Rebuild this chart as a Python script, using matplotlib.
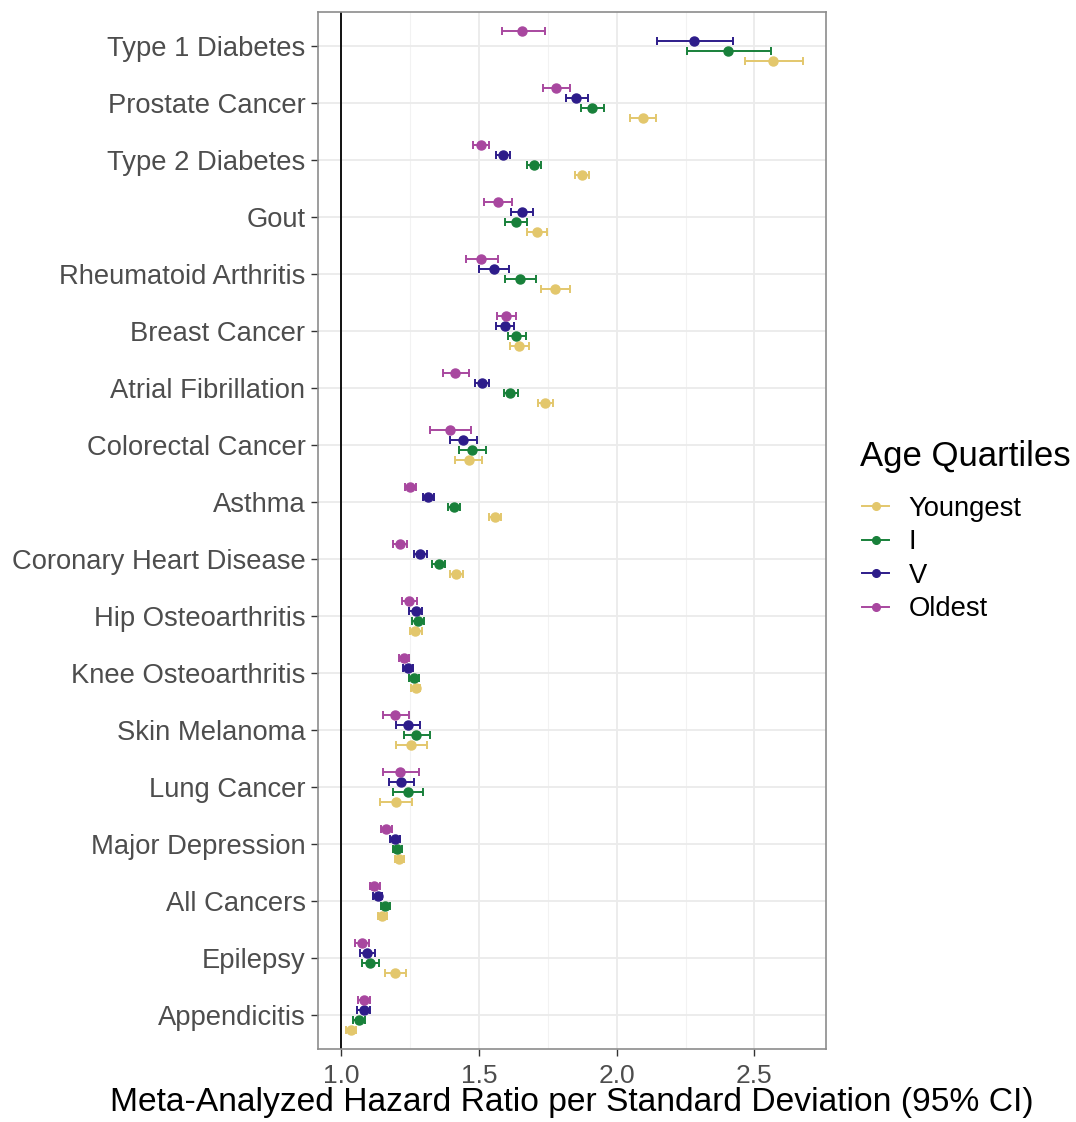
import matplotlib
matplotlib.use('Agg')
import matplotlib.pyplot as plt
from matplotlib.lines import Line2D
import numpy as np

plt.rcParams['font.family'] = ['Liberation Sans', 'DejaVu Sans']

# --- dados (de cima para baixo) ---
categories = ['Type 1 Diabetes', 'Prostate Cancer', 'Type 2 Diabetes', 'Gout',
              'Rheumatoid Arthritis', 'Breast Cancer', 'Atrial Fibrillation',
              'Colorectal Cancer', 'Asthma', 'Coronary Heart Disease',
              'Hip Osteoarthritis', 'Knee Osteoarthritis', 'Skin Melanoma',
              'Lung Cancer', 'Major Depression', 'All Cancers', 'Epilepsy',
              'Appendicitis']

youngest_hr = [2.567, 2.094, 1.873, 1.710, 1.777, 1.646, 1.740, 1.463, 1.558,
               1.418, 1.269, 1.270, 1.254, 1.198, 1.211, 1.149, 1.196, 1.036]
youngest_lo = [2.465, 2.048, 1.848, 1.673, 1.727, 1.612, 1.714, 1.414, 1.536,
               1.395, 1.251, 1.254, 1.199, 1.141, 1.196, 1.135, 1.159, 1.019]
youngest_hi = [2.676, 2.142, 1.901, 1.748, 1.831, 1.681, 1.769, 1.512, 1.580,
               1.442, 1.292, 1.287, 1.312, 1.257, 1.227, 1.165, 1.235, 1.055]

q1_hr = [2.405, 1.910, 1.699, 1.635, 1.648, 1.636, 1.614, 1.475, 1.408,
         1.354, 1.278, 1.265, 1.272, 1.241, 1.204, 1.161, 1.105, 1.064]
q1_lo = [2.257, 1.870, 1.675, 1.596, 1.594, 1.604, 1.590, 1.427, 1.389,
         1.331, 1.257, 1.247, 1.227, 1.190, 1.187, 1.146, 1.075, 1.043]
q1_hi = [2.560, 1.953, 1.724, 1.673, 1.706, 1.670, 1.641, 1.527, 1.430,
         1.378, 1.302, 1.283, 1.323, 1.298, 1.220, 1.177, 1.136, 1.086]

q5_hr = [2.281, 1.854, 1.588, 1.657, 1.554, 1.593, 1.511, 1.442, 1.317,
         1.288, 1.271, 1.241, 1.242, 1.217, 1.195, 1.133, 1.095, 1.082]
q5_lo = [2.146, 1.816, 1.563, 1.617, 1.500, 1.561, 1.487, 1.395, 1.298,
         1.266, 1.247, 1.224, 1.200, 1.173, 1.178, 1.117, 1.067, 1.058]
q5_hi = [2.423, 1.895, 1.614, 1.698, 1.611, 1.627, 1.537, 1.494, 1.336,
         1.311, 1.295, 1.260, 1.287, 1.263, 1.212, 1.148, 1.124, 1.106]

oldest_hr = [1.658, 1.780, 1.506, 1.570, 1.508, 1.598, 1.414, 1.396, 1.251,
             1.214, 1.246, 1.228, 1.196, 1.214, 1.164, 1.120, 1.075, 1.082]
oldest_lo = [1.583, 1.733, 1.477, 1.519, 1.453, 1.564, 1.369, 1.324, 1.233,
             1.190, 1.220, 1.210, 1.151, 1.152, 1.146, 1.104, 1.049, 1.060]
oldest_hi = [1.739, 1.829, 1.536, 1.620, 1.570, 1.634, 1.463, 1.471, 1.271,
             1.240, 1.275, 1.248, 1.245, 1.281, 1.183, 1.140, 1.100, 1.106]

group_labels = ['Youngest', 'I', 'V', 'Oldest']
group_colors = ['#E3C76C', '#18803A', '#2D1C8A', '#A8479F']

# --- figura ---
W, H = 1076, 1122
fig = plt.figure(figsize=(W / 100, H / 100), dpi=100)
ax = fig.add_axes([318 / W, 73 / H, 508 / W, 1037 / H])

n = len(categories)
ypos = np.arange(n)[::-1]  # primeira categoria no topo

series = [
    (youngest_hr, youngest_lo, youngest_hi, -0.2625),
    (q1_hr, q1_lo, q1_hi, -0.0875),
    (q5_hr, q5_lo, q5_hi, 0.0875),
    (oldest_hr, oldest_lo, oldest_hi, 0.2625),
]

ax.axvline(1.0, color='black', lw=1.3, zorder=2)

for (hr, lo, hi, off), col in zip(series, group_colors):
    hr = np.array(hr)
    err = [hr - np.array(lo), np.array(hi) - hr]
    ax.errorbar(hr, ypos + off, xerr=err, fmt='o', color=col, ms=6.5,
                elinewidth=1.4, capsize=3, capthick=1.4, zorder=3)

ax.set_xlim(0.916, 2.76)
ax.set_ylim(-0.6, n - 0.4)
ax.set_yticks(ypos)
ax.set_yticklabels(categories)
ax.set_xticks([1.0, 1.5, 2.0, 2.5])
ax.set_xticklabels(['1.0', '1.5', '2.0', '2.5'])
ax.set_xticks([1.25, 1.75, 2.25], minor=True)

ax.grid(True, which='major', color='#EBEBEB', lw=1.3, zorder=0)
ax.grid(True, which='minor', axis='x', color='#F2F2F2', lw=0.8, zorder=0)
ax.set_axisbelow(True)
for s in ax.spines.values():
    s.set_color('#8C8C8C')
    s.set_linewidth(1.2)

ax.tick_params(axis='y', which='major', labelsize=19.7, colors='#333333',
               labelcolor='#4D4D4D', length=5, width=1, pad=4)
ax.tick_params(axis='x', which='major', labelsize=19, colors='#333333',
               labelcolor='#4D4D4D', length=5, width=1, pad=6)
ax.tick_params(axis='x', which='minor', length=0)

ax.set_xlabel('Meta-Analyzed Hazard Ratio per Standard Deviation (95% CI)',
              fontsize=24.2)
ax.xaxis.set_label_coords(0.5, -(1103 - 1049) / 1037)
ax.xaxis.label.set_va('center')

# legenda (título separado para controlar o espaçamento)
fig.text(860 / W, 1 - 457 / H, 'Age Quartiles', fontsize=25, va='center', ha='left')
handles = [Line2D([0], [0], color=c, marker='o', ms=5.5, lw=1.4)
           for c in group_colors]
fig.legend(handles, group_labels, loc='upper left',
           bbox_to_anchor=(862 / W, 1 - 496 / H),
           frameon=False, fontsize=19.7, handlelength=1.0,
           handletextpad=0.7, labelspacing=0.27, borderpad=0, borderaxespad=0)

fig.savefig('out.png', dpi=100)
